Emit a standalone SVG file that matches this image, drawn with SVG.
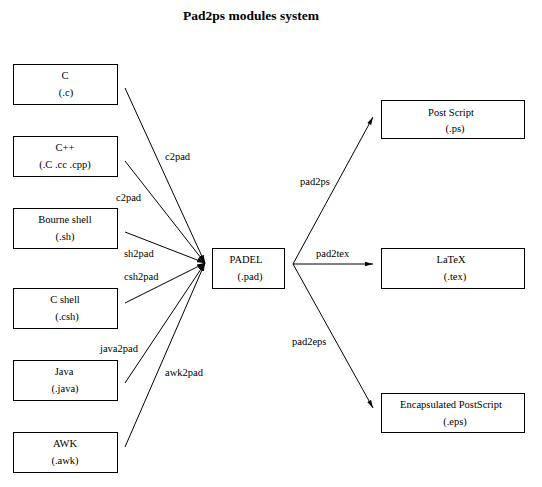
<svg xmlns="http://www.w3.org/2000/svg" width="542" height="487" viewBox="0 0 542 487">
<style>
.box{fill:#fff;stroke:#000;stroke-width:1}
.t{font-family:"Liberation Serif","Times New Roman",serif;font-size:10.5px;fill:#000;text-anchor:middle}
.lbl{font-family:"Liberation Serif","Times New Roman",serif;font-size:10.5px;fill:#000}
.title{font-family:"Liberation Serif","Times New Roman",serif;font-size:13.5px;font-weight:bold;fill:#000;text-anchor:middle}
.c{stroke:#000;stroke-width:1;fill:none;marker-end:url(#ah)}
</style>
<defs>
<marker id="ah" markerWidth="9" markerHeight="6" refX="8" refY="3" orient="auto" markerUnits="userSpaceOnUse">
<path d="M0,0.8 L8,3 L0,5.2 Z" fill="#000"/>
</marker>
</defs>
<rect width="542" height="487" fill="#fff"/>
<text class="title" x="251" y="20">Pad2ps modules system</text>
<g id="connectors">
<line class="c" x1="125" y1="88" x2="205" y2="263"/>
<line class="c" x1="125" y1="161" x2="205" y2="263"/>
<line class="c" x1="125" y1="232" x2="205" y2="263"/>
<line class="c" x1="125" y1="303" x2="205" y2="263"/>
<line class="c" x1="125" y1="383" x2="205" y2="263"/>
<line class="c" x1="125" y1="447" x2="205" y2="263"/>
<line class="c" x1="293" y1="264" x2="373" y2="117"/>
<line class="c" x1="293" y1="264" x2="373" y2="264"/>
<line class="c" x1="293" y1="264" x2="373" y2="408"/>
<text class="lbl" x="165" y="160">c2pad</text>
<text class="lbl" x="116" y="201">c2pad</text>
<text class="lbl" x="124" y="257">sh2pad</text>
<text class="lbl" x="124" y="280">csh2pad</text>
<text class="lbl" x="100" y="352">java2pad</text>
<text class="lbl" x="165" y="376">awk2pad</text>
<text class="lbl" x="300" y="185">pad2ps</text>
<text class="lbl" x="316" y="257">pad2tex</text>
<text class="lbl" x="292" y="345">pad2eps</text>
</g>
<g id="c"><rect class="box" x="13.5" y="64.5" width="104" height="40"/><text class="t" x="65" y="79">C</text><text class="t" x="66" y="96">(.c)</text></g>
<g id="cpp"><rect class="box" x="13.5" y="136.5" width="104" height="40"/><text class="t" x="65" y="151">C++</text><text class="t" x="65" y="168">(.C .cc .cpp)</text></g>
<g id="sh"><rect class="box" x="13.5" y="208.5" width="104" height="40"/><text class="t" x="65" y="223">Bourne shell</text><text class="t" x="65" y="240">(.sh)</text></g>
<g id="csh"><rect class="box" x="13.5" y="288.5" width="104" height="40"/><text class="t" x="65" y="303">C shell</text><text class="t" x="67" y="320">(.csh)</text></g>
<g id="java"><rect class="box" x="13.5" y="360.5" width="104" height="40"/><text class="t" x="64" y="375">Java</text><text class="t" x="65" y="392">(.java)</text></g>
<g id="awk"><rect class="box" x="13.5" y="432.5" width="104" height="40"/><text class="t" x="65" y="447">AWK</text><text class="t" x="65" y="464">(.awk)</text></g>
<g id="padel"><rect class="box" x="212.5" y="248.5" width="72" height="40"/><text class="t" x="246" y="263">PADEL</text><text class="t" x="250" y="280">(.pad)</text></g>
<g id="ps"><rect class="box" x="381.5" y="100.5" width="143" height="38"/><text class="t" x="451" y="116">Post Script</text><text class="t" x="455" y="132">(.ps)</text></g>
<g id="tex"><rect class="box" x="381.5" y="248.5" width="143" height="40"/><text class="t" x="451" y="263">LaTeX</text><text class="t" x="455" y="280">(.tex)</text></g>
<g id="eps"><rect class="box" x="381.5" y="393.5" width="143" height="39"/><text class="t" x="451" y="408">Encapsulated PostScript</text><text class="t" x="455" y="425">(.eps)</text></g>
</svg>
